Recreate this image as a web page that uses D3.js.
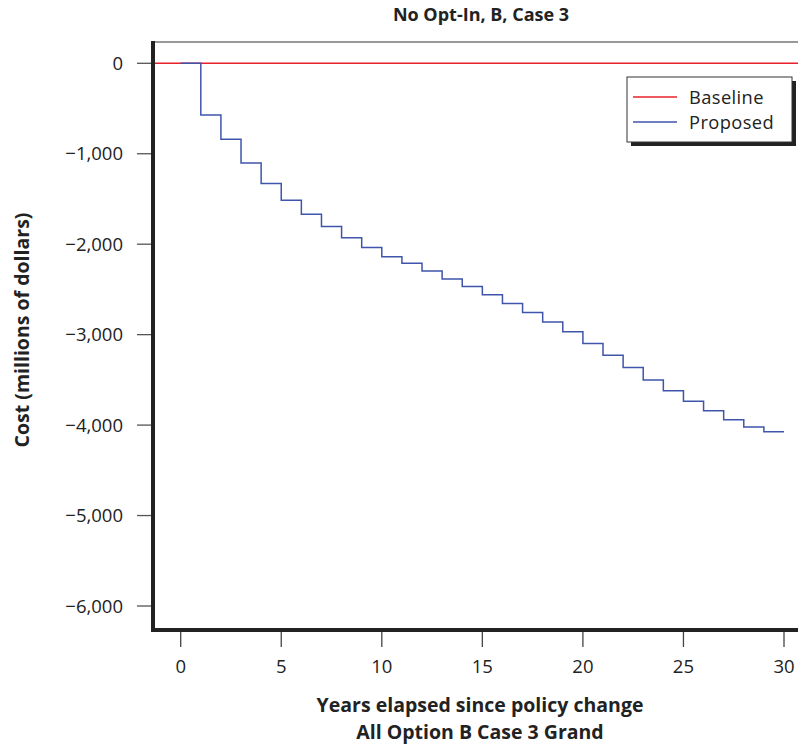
<!DOCTYPE html>
<html>
<head>
<meta charset="utf-8">
<script src="https://cdn.jsdelivr.net/npm/d3@7"></script>
<style>
  html, body { margin: 0; padding: 0; background: #fff; }
  svg { display: block; font-family: "Open Sans", "Noto Sans", sans-serif; }
</style>
</head>
<body>
<svg id="chart" width="798" height="747"></svg>
<script>
// ---- data ----
const years = d3.range(0, 31);
const proposed = [0, -571, -840, -1102, -1330, -1514, -1669, -1805, -1930, -2037,
  -2140, -2210, -2295, -2384, -2468, -2560, -2656, -2756, -2859, -2969,
  -3098, -3227, -3363, -3500, -3621, -3735, -3842, -3941, -4022, -4074, -4074];
const baseline = years.map(() => 0);
const xTicks = [0, 5, 10, 15, 20, 25, 30];
const yTicks = [0, -1000, -2000, -3000, -4000, -5000, -6000];
const seriesNames = ["Baseline", "Proposed"];
const seriesColors = ["#e8202a", "#3f55ab"];
const title = "No Opt-In, B, Case 3";
const xTitle1 = "Years elapsed since policy change";
const xTitle2 = "All Option B Case 3 Grand";
const yTitle = "Cost (millions of dollars)";

// ---- layout ----
const svg = d3.select("#chart");
const pLeft = 153, pTop = 42, pBottom = 630, pRight = 810;
const x = d3.scaleLinear().domain([0, 30]).range([180.7, 784]);
const y = d3.scaleLinear().domain([0, -6000]).range([63.3, 606]);
const fmt = v => v === 0 ? "0" : "\u2212" + d3.format(",")(Math.abs(v));

// frame top (thin grey)
svg.append("line").attr("x1", pLeft).attr("x2", pRight).attr("y1", pTop).attr("y2", pTop)
  .attr("stroke", "#777").attr("stroke-width", 1.5);

// y axis ticks
const yAxis = svg.append("g");
yTicks.forEach(t => {
  yAxis.append("line").attr("x1", 137).attr("x2", pLeft).attr("y1", y(t)).attr("y2", y(t))
    .attr("stroke", "#555").attr("stroke-width", 1.3);
  yAxis.append("text").attr("x", 123).attr("y", y(t)).attr("dy", "0.36em")
    .attr("text-anchor", "end").attr("font-size", 18.5).attr("fill", "#222").text(fmt(t));
});
// x axis ticks
const xAxis = svg.append("g");
xTicks.forEach(t => {
  xAxis.append("line").attr("x1", x(t)).attr("x2", x(t)).attr("y1", pBottom).attr("y2", 647)
    .attr("stroke", "#444").attr("stroke-width", 1.3);
  xAxis.append("text").attr("x", x(t)).attr("y", 673)
    .attr("text-anchor", "middle").attr("font-size", 18.5).attr("fill", "#222").text(t);
});

// baseline across the full plot width
const xl = x.invert(pLeft), xr = x.invert(pRight);
svg.append("path")
  .datum([{ yr: xl, v: baseline[0] }, ...years.map((yr, i) => ({ yr, v: baseline[i] })), { yr: xr, v: baseline[baseline.length - 1] }])
  .attr("fill", "none").attr("stroke", seriesColors[0]).attr("stroke-width", 1.5)
  .attr("d", d3.line().x(d => x(d.yr)).y(d => y(d.v)));

// proposed step line
svg.append("path")
  .datum(years.map((yr, i) => ({ yr, v: proposed[i] })))
  .attr("fill", "none").attr("stroke", seriesColors[1]).attr("stroke-width", 1.5)
  .attr("d", d3.line().curve(d3.curveStepAfter).x(d => x(d.yr)).y(d => y(d.v)));

// thick left and bottom axis lines
svg.append("line").attr("x1", pLeft).attr("x2", pLeft).attr("y1", pTop - 1).attr("y2", pBottom + 2)
  .attr("stroke", "#222").attr("stroke-width", 4);
svg.append("line").attr("x1", pLeft - 2).attr("x2", pRight).attr("y1", pBottom).attr("y2", pBottom)
  .attr("stroke", "#222").attr("stroke-width", 4);

// legend
const lg = svg.append("g");
lg.append("rect").attr("x", 631).attr("y", 81).attr("width", 165).attr("height", 65).attr("fill", "#222");
lg.append("rect").attr("x", 627).attr("y", 77).attr("width", 165).attr("height", 65)
  .attr("fill", "#fff").attr("stroke", "#333").attr("stroke-width", 1);
seriesNames.forEach((n, i) => {
  const ly = 97 + i * 25;
  lg.append("line").attr("x1", 633).attr("x2", 677).attr("y1", ly).attr("y2", ly)
    .attr("stroke", seriesColors[i]).attr("stroke-width", 1.5);
  lg.append("text").attr("x", 689).attr("y", ly).attr("dy", "0.36em")
    .attr("font-size", 18.3).attr("letter-spacing", 0.4).attr("fill", "#222").text(n);
});

// titles
svg.append("text").attr("x", 481).attr("y", 21).attr("text-anchor", "middle")
  .attr("font-size", 18).attr("font-weight", "bold").attr("fill", "#222").text(title);
svg.append("text").attr("x", 480).attr("y", 712).attr("text-anchor", "middle")
  .attr("font-size", 19.5).attr("font-weight", "bold").attr("fill", "#222").text(xTitle1);
svg.append("text").attr("x", 480).attr("y", 739).attr("text-anchor", "middle")
  .attr("font-size", 19.5).attr("font-weight", "bold").attr("fill", "#222").text(xTitle2);
svg.append("text").attr("transform", "translate(29,330) rotate(-90)").attr("text-anchor", "middle")
  .attr("font-size", 19.5).attr("font-weight", "bold").attr("fill", "#222").text(yTitle);
</script>
</body>
</html>
